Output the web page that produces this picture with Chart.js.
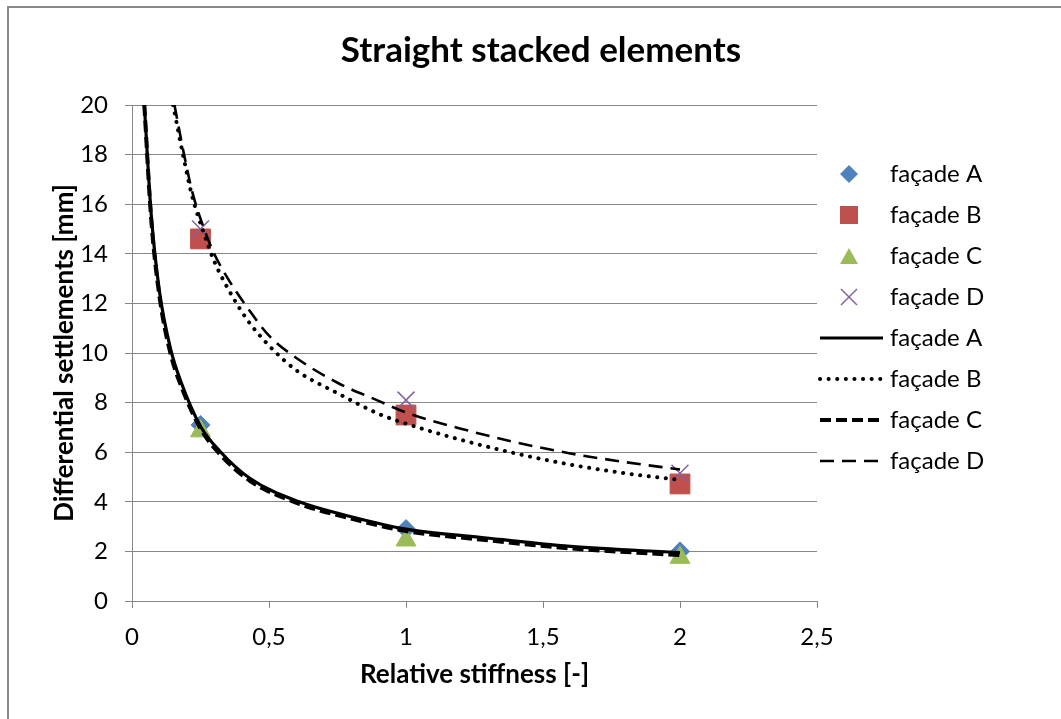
<!DOCTYPE html>
<html>
<head>
<meta charset="utf-8">
<script src="https://cdn.jsdelivr.net/npm/chart.js@4/dist/chart.umd.min.js"></script>
<style>
  html, body { margin: 0; padding: 0; background: #fff; }
  #wrap { position: relative; width: 1061px; height: 719px; }
  #frame { position: absolute; left: 7px; top: 6px; width: 1100px; height: 800px;
           border-left: 2px solid #8a8a8a; border-top: 2px solid #8a8a8a; pointer-events: none; }
</style>
</head>
<body>
<div id="wrap">
  <canvas id="graph" width="1061" height="719"></canvas>
  <div id="frame"></div>
</div>
<script>
// measured points (x = relative stiffness)
const pointX = [0.25, 1, 2];
const facadeA = [7.1, 2.9, 2.0];
const facadeB = [14.6, 7.5, 4.72];
const facadeC = [6.85, 2.45, 1.75];
const facadeD = [15.0, 8.1, 5.15];

// trend lines
const trendACX = [0.045, 0.07, 0.1, 0.14, 0.18, 0.25, 0.32, 0.43, 0.61, 0.8, 1.0, 1.27, 1.6, 2.0];
const trendA = [20, 15.6, 12.5, 10.2, 8.8, 7.05, 6.05, 4.95, 4.0, 3.4, 2.9, 2.57, 2.2, 1.95];
const trendC = [20, 15.4, 12.3, 10.0, 8.65, 6.95, 5.93, 4.85, 3.92, 3.32, 2.82, 2.48, 2.12, 1.85];

const trendBX = [0.15, 0.186, 0.22, 0.26, 0.3, 0.35, 0.42, 0.5, 0.6, 0.75, 0.9, 1.0, 1.2, 1.4, 1.6, 1.8, 2.0];
const trendB = [20, 18.0, 16.3, 14.9, 13.7, 12.6, 11.35, 10.3, 9.3, 8.38, 7.55, 7.15, 6.5, 5.95, 5.5, 5.15, 4.88];
const trendDX = [0.155, 0.19, 0.22, 0.26, 0.3, 0.35, 0.42, 0.5, 0.6, 0.75, 0.9, 1.0, 1.2, 1.4, 1.6, 1.8, 2.0];
const trendD = [20, 18.0, 16.5, 15.1, 14.0, 13.0, 11.85, 10.7, 9.8, 8.8, 8.07, 7.6, 6.95, 6.4, 5.95, 5.6, 5.3];

const xTickLabels = ['0', '0,5', '1', '1,5', '2', '2,5'];
const yTickLabels = ['0', '2', '4', '6', '8', '10', '12', '14', '16', '18', '20'];

const LEGEND_W = 244;
const GRID = '#878787';

Chart.defaults.font.family = 'Lato, "Open Sans", sans-serif';
Chart.defaults.color = '#000';

function pts(xs, ys) {
  return xs.map((x, i) => ({ x: x, y: ys[i] }));
}

// small canvases used as legend symbols
function icon(draw) {
  const c = document.createElement('canvas');
  c.width = 80;
  c.height = 24;
  const g = c.getContext('2d');
  draw(g);
  return c;
}
const cx = 33, cy = 12;
function markerIcon(kind, color) {
  return icon(function (g) {
    g.fillStyle = color;
    g.strokeStyle = color;
    g.beginPath();
    if (kind === 'diamond') {
      g.moveTo(cx - 9, cy); g.lineTo(cx, cy - 9); g.lineTo(cx + 9, cy); g.lineTo(cx, cy + 9);
      g.closePath(); g.fill();
    } else if (kind === 'square') {
      g.rect(cx - 9, cy - 9, 18, 18); g.fill();
    } else if (kind === 'triangle') {
      g.moveTo(cx, cy - 8); g.lineTo(cx + 9, cy + 8); g.lineTo(cx - 9, cy + 8);
      g.closePath(); g.fill();
    } else {
      g.lineWidth = 1.5;
      g.moveTo(cx - 8, cy - 8); g.lineTo(cx + 8, cy + 8);
      g.moveTo(cx + 8, cy - 8); g.lineTo(cx - 8, cy + 8);
      g.stroke();
    }
  });
}
function lineIcon(ds) {
  return icon(function (g) {
    g.strokeStyle = '#000';
    g.lineWidth = ds.borderWidth;
    g.lineCap = ds.borderCapStyle || 'butt';
    g.setLineDash(ds.borderDash || []);
    g.beginPath();
    g.moveTo(4, cy);
    g.lineTo(67, cy);
    g.stroke();
  });
}

const lineBase = { showLine: true, pointRadius: 0, pointHoverRadius: 0, borderColor: '#000',
                   backgroundColor: '#000', cubicInterpolationMode: 'monotone', order: 0 };

const datasets = [
  { label: 'façade A', data: pts(pointX, facadeA), pointStyle: 'rectRot', pointRadius: 9.5,
    backgroundColor: '#4F81BD', borderColor: '#4F81BD', borderWidth: 1, order: 4, icon: markerIcon('diamond', '#4F81BD') },
  { label: 'façade B', data: pts(pointX, facadeB), pointStyle: 'rect', pointRadius: 14,
    backgroundColor: '#C0504D', borderColor: '#C0504D', borderWidth: 1, order: 3, icon: markerIcon('square', '#C0504D') },
  { label: 'façade C', data: pts(pointX, facadeC), pointStyle: 'triangle', pointRadius: 11.5,
    backgroundColor: '#9BBB59', borderColor: '#9BBB59', borderWidth: 1, order: 2, icon: markerIcon('triangle', '#9BBB59') },
  { label: 'façade D', data: pts(pointX, facadeD), pointStyle: 'crossRot', pointRadius: 12,
    backgroundColor: '#8064A2', borderColor: '#8064A2', borderWidth: 1.5, order: 1, icon: markerIcon('cross', '#8064A2') },
  Object.assign({}, lineBase, { label: 'façade A', data: pts(trendACX, trendA), borderWidth: 3.2 }),
  Object.assign({}, lineBase, { label: 'façade B', data: pts(trendBX, trendB), borderWidth: 4,
    borderDash: [0.1, 8.5], borderCapStyle: 'round' }),
  Object.assign({}, lineBase, { label: 'façade C', data: pts(trendACX, trendC), borderWidth: 4, borderDash: [11, 5] }),
  Object.assign({}, lineBase, { label: 'façade D', data: pts(trendDX, trendD), borderWidth: 2.6, borderDash: [14, 8] })
];
datasets.forEach(function (ds) { if (!ds.icon) ds.icon = lineIcon(ds); });

// keep the legend column as wide as the space right of the plot
const legendWidth = {
  id: 'legendWidth',
  beforeLayout(chart) {
    const lg = chart.legend;
    if (lg && !lg._fixedWidth) {
      const fit = lg.fit;
      lg.fit = function () { fit.call(this); this.width = LEGEND_W; };
      lg._fixedWidth = true;
    }
  }
};

var ctx = document.getElementById('graph').getContext('2d');

var chart = new Chart(ctx, {
  type: 'scatter',
  data: { datasets: datasets },
  plugins: [legendWidth],
  options: {
    responsive: false,
    animation: false,
    events: [],
    layout: { padding: { left: 21, right: 0, top: 0, bottom: 0 } },
    plugins: {
      tooltip: { enabled: false },
      title: {
        display: true,
        text: 'Straight stacked elements',
        color: '#000',
        font: { size: 35, weight: 'bold' },
        padding: { top: 30, bottom: 33 }
      },
      legend: {
        position: 'right',
        align: 'start',
        title: { display: true, text: ' ', font: { size: 10 }, padding: { top: 66, bottom: 67 } },
        labels: {
          usePointStyle: true,
          pointStyleWidth: 44,
          padding: 17,
          color: '#000',
          font: { size: 24 },
          generateLabels(chart) {
            return chart.data.datasets.map(function (ds, i) {
              return { text: ds.label, pointStyle: ds.icon, datasetIndex: i, hidden: false,
                       fillStyle: 'transparent', strokeStyle: 'transparent', lineWidth: 0, fontColor: '#000' };
            });
          }
        }
      }
    },
    scales: {
      x: {
        type: 'linear',
        min: 0,
        max: 2.5,
        afterFit(scale) { scale.height = 118; },
        ticks: {
          stepSize: 0.5,
          padding: 15,
          font: { size: 24 },
          callback: function (v, i) { return xTickLabels[i]; }
        },
        grid: { drawOnChartArea: false, drawTicks: true, tickLength: 7, color: GRID },
        border: { color: GRID, width: 1 },
        title: {
          display: true,
          text: 'Relative stiffness [-]',
          font: { size: 26, weight: 'bold' },
          padding: { top: 0, bottom: 29 }
        }
      },
      y: {
        min: 0,
        max: 20,
        afterFit(scale) { scale.width = 111; },
        ticks: {
          stepSize: 2,
          padding: 17,
          font: { size: 24 },
          callback: function (v, i) { return yTickLabels[i]; }
        },
        grid: { color: GRID, tickLength: 7 },
        border: { color: GRID, width: 1 },
        title: {
          display: true,
          text: 'Differential settlements [mm]',
          font: { size: 26, weight: 'bold' },
          padding: { top: 28, bottom: 0 }
        }
      }
    }
  }
});
</script>
</body>
</html>
